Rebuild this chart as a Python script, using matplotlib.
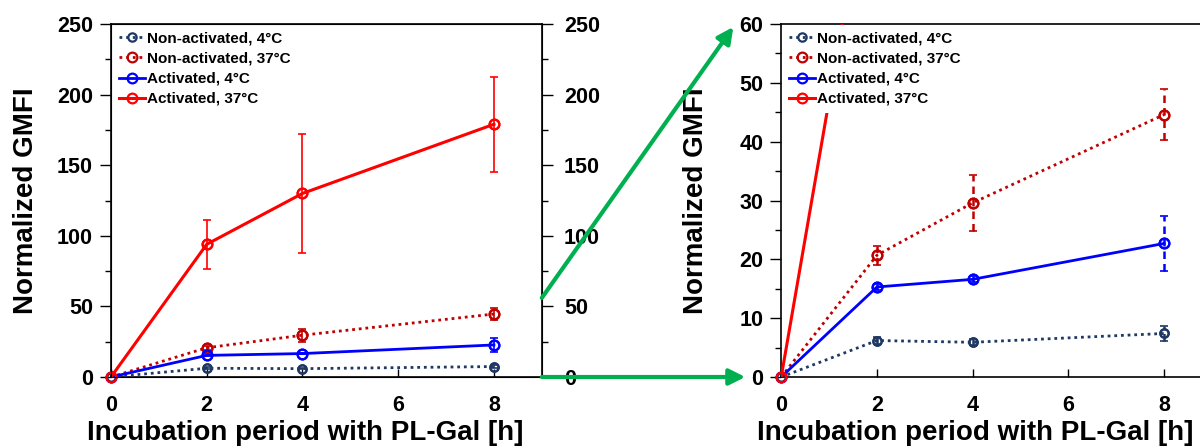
"""Normalized GMFI vs. incubation period with PL-Gal: full range and zoomed view."""

import matplotlib

matplotlib.use("Agg")
import matplotlib.pyplot as plt
from matplotlib.patches import ConnectionPatch
from matplotlib.ticker import MultipleLocator

plt.rcParams["font.family"] = ["Liberation Sans", "DejaVu Sans"]
plt.rcParams["font.weight"] = "bold"
plt.rcParams["axes.labelweight"] = "bold"

# incubation time points [h]
hours = [0, 2, 4, 8]

series_labels = [
    "Non-activated, 4°C",
    "Non-activated, 37°C",
    "Activated, 4°C",
    "Activated, 37°C",
]
nonact_4 = [0, 6.2, 5.9, 7.4]
nonact_4_err = [0, 0.6, 0.5, 1.2]
nonact_37 = [0, 20.7, 29.6, 44.6]
nonact_37_err = [0, 1.6, 4.7, 4.3]
act_4 = [0, 15.3, 16.6, 22.7]
act_4_err = [0, 0.5, 0.5, 4.7]
act_37 = [0, 94, 130, 179]
act_37_err = [0, 17.5, 42, 33.5]

X_LABEL = "Incubation period with PL-Gal [h]"
Y_LABEL = "Normalized GMFI"

NAVY = "#1f3864"
DARK_RED = "#c00000"
BLUE = "#0000ff"
RED = "#ff0000"
GREEN = "#00b050"

TICK_FONT = 15.5
LABEL_FONT = 20
LEGEND_FONT = 11

# (values, errors, colour, linestyle, linewidth, markersize)
STYLES = [
    (nonact_4, nonact_4_err, NAVY, (0, (1, 1.4)), 2.0, 6),
    (nonact_37, nonact_37_err, DARK_RED, (0, (1, 1.4)), 2.0, 7),
    (act_4, act_4_err, BLUE, "-", 2.0, 7),
    (act_37, act_37_err, RED, "-", 2.2, 7),
]


def draw_series(ax, err_dashed):
    for label, (vals, errs, color, ls, lw, ms) in zip(series_labels, STYLES):
        ax.plot(hours, vals, color=color, linestyle=ls, linewidth=lw,
                marker="o", markersize=ms, markerfacecolor="none",
                markeredgewidth=1.6, label=label, zorder=3)
        # full markers at the axis corner, which the clipped line would cut
        ax.plot(hours, vals, linestyle="none", marker="o", markersize=ms,
                markerfacecolor="none", markeredgecolor=color,
                markeredgewidth=1.6, clip_on=False, zorder=3)
        eb = ax.errorbar(hours, vals, yerr=errs, fmt="none", ecolor=color,
                         elinewidth=1.8 if err_dashed else 1.2,
                         capsize=3, capthick=1.2, zorder=2)
        if err_dashed:
            for coll in eb[2]:
                coll.set_linestyle((0, (3, 2)))


def style_axis(ax, ymax, major, minor):
    ax.set_xlim(0, 9)
    ax.set_ylim(0, ymax)
    ax.set_xticks([0, 2, 4, 6, 8])
    ax.yaxis.set_major_locator(MultipleLocator(major))
    ax.yaxis.set_minor_locator(MultipleLocator(minor))
    ax.tick_params(axis="x", direction="in", length=6, width=1, pad=13,
                   labelsize=TICK_FONT)
    ax.tick_params(axis="y", which="major", direction="out", length=8,
                   width=1, pad=5, labelsize=TICK_FONT)
    ax.tick_params(axis="y", which="minor", direction="out", length=4, width=1)
    for spine in ax.spines.values():
        spine.set_linewidth(1.2)
    ax.set_xlabel(X_LABEL, fontsize=LABEL_FONT)
    ax.set_ylabel(Y_LABEL, fontsize=LABEL_FONT)
    # labels sit a little left of the axes centre, as in the original figure
    ax.xaxis.set_label_coords(0.45, -0.122)
    ax.yaxis.set_label_coords(-0.168, 0.5)


def add_legend(ax):
    leg = ax.legend(loc="upper left", bbox_to_anchor=(0.0, 1.0),
                    fontsize=LEGEND_FONT, handlelength=1.7, handletextpad=0.15,
                    labelspacing=0.4, borderpad=0.45, borderaxespad=0.05,
                    frameon=True, fancybox=False)
    leg.get_frame().set_facecolor("white")
    leg.get_frame().set_edgecolor("none")
    leg.get_frame().set_alpha(1.0)
    leg.set_zorder(5)


fig = plt.figure(figsize=(12, 4.47), dpi=100)
ax_full = fig.add_axes([0.0925, 0.1566, 0.359, 0.7897])
ax_zoom = fig.add_axes([0.651, 0.1566, 0.359, 0.7897])

draw_series(ax_full, err_dashed=False)
style_axis(ax_full, 250, 50, 25)
add_legend(ax_full)

# duplicate value scale on the right of the full-range panel
ax_twin = ax_full.twinx()
ax_twin.set_ylim(0, 250)
ax_twin.yaxis.set_major_locator(MultipleLocator(50))
ax_twin.yaxis.set_minor_locator(MultipleLocator(25))
ax_twin.tick_params(axis="y", which="major", direction="out", length=8,
                    width=1, pad=8, labelsize=TICK_FONT)
ax_twin.tick_params(axis="y", which="minor", direction="out", length=4, width=1)

draw_series(ax_zoom, err_dashed=True)
style_axis(ax_zoom, 60, 10, 5)
add_legend(ax_zoom)

# green arrows linking the 0-60 range to the zoomed panel
for start, end in [((9, 56), (-1.0, 59.5)), ((9, 0), (-0.75, 0))]:
    arrow = ConnectionPatch(xyA=start, coordsA=ax_full.transData,
                            xyB=end, coordsB=ax_zoom.transData,
                            arrowstyle="-|>", color=GREEN, linewidth=3,
                            mutation_scale=24, shrinkA=0, shrinkB=0)
    fig.add_artist(arrow)

fig.savefig("out.png", dpi=100)
